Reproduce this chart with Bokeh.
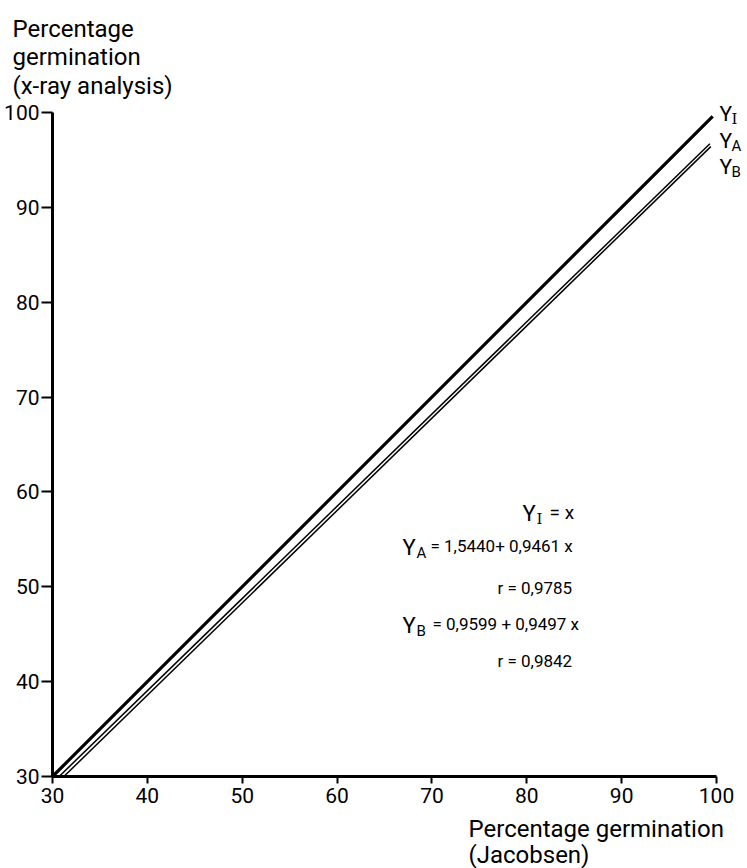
from bokeh.plotting import figure
from bokeh.models import Range1d, FixedTicker, Label
from bokeh.embed import file_html
from bokeh.resources import INLINE

# ---- data ----
ticks = [30, 40, 50, 60, 70, 80, 90, 100]
yi_x = [30.0, 99.6]
yi_y = [30.0, 99.6]
ya_x = [30.7, 99.3]
ya_y = [30.0, 96.7]
yb_x = [31.2, 99.4]
yb_y = [30.0, 96.4]
eq_a = "= 1,5440+ 0,9461 x"
r_a = "r = 0,9785"
eq_b = "= 0,9599 + 0,9497 x"
r_b = "r = 0,9842"

FONT = "Roboto"
W, H = 745, 868
LEFT, TOP = 52, 112          # position of the (30,100) corner inside the canvas
FRAME = 664                  # pixels spanned by 70 data units
SC = FRAME / 70.0

x0 = 30 - LEFT / SC
x1 = 30 + (W - LEFT) / SC
y0 = 30 - (H - TOP - FRAME) / SC
y1 = 30 + (TOP + FRAME) / SC

p = figure(width=W, height=H, output_backend="svg", toolbar_location=None,
           x_range=Range1d(x0, x1), y_range=Range1d(y0, y1),
           min_border=0)
p.outline_line_color = None
p.grid.visible = False
p.background_fill_color = "white"
p.border_fill_color = "white"

for ax in (p.xaxis[0], p.yaxis[0]):
    ax.fixed_location = 30
    ax.bounds = (30, 100)
    ax.ticker = FixedTicker(ticks=ticks)
    ax.axis_line_width = 3
    ax.axis_line_color = "black"
    ax.major_tick_line_width = 2
    ax.major_tick_line_color = "black"
    ax.minor_tick_line_color = None
    ax.major_tick_in = 0
    ax.major_label_text_font = FONT
    ax.major_label_text_font_size = "21px"
    ax.major_label_text_color = "black"
p.yaxis[0].major_tick_out = 11
p.yaxis[0].major_label_standoff = 2
p.xaxis[0].major_tick_out = 7
p.xaxis[0].major_label_standoff = 4

p.line(yi_x, yi_y, line_color="black", line_width=3.2)
p.line(ya_x, ya_y, line_color="black", line_width=1.5)
p.line(yb_x, yb_y, line_color="black", line_width=1.5)

# canvas-pixel -> data helper for annotation placement
def dx(px):
    return 30 + (px - LEFT) / SC
def dy(py):
    return 30 + (TOP + FRAME - py) / SC

def lab(text, px, py, size, font=FONT):
    p.add_layout(Label(x=dx(px), y=dy(py), text=text, text_font=font,
                       text_font_size=size, text_color="black",
                       text_baseline="alphabetic", text_align="left"))

# axis titles
lab("Percentage", 12, 28, "24px")
lab("germination", 12, 56.5, "24px")
lab("(x-ray analysis)", 12, 85, "24px")
lab("Percentage germination", 468, 828, "24px")
lab("(Jacobsen)", 468, 854, "24px")

# line labels at right
for sub, base in (("I", 113), ("A", 140), ("B", 166)):
    lab("Y", 719, base, "21px")
    lab(sub, 731, base + 5, "15px", "DejaVu Serif" if sub == "I" else FONT)

# equations
lab("Y", 522, 513, "22px")
lab("I", 536, 518, "15px", "DejaVu Serif")
lab("= x", 549, 512, "19px")
lab("Y", 402, 547, "22px")
lab("A", 416, 552, "15px")
lab(eq_a, 430, 545, "17px")
lab(r_a, 497, 587, "17px")
lab("Y", 402, 625, "22px")
lab("B", 416, 630, "15px")
lab(eq_b, 432, 623, "17px")
lab(r_b, 497, 660, "17px")

open("out.html", "w").write(file_html(p, INLINE))
